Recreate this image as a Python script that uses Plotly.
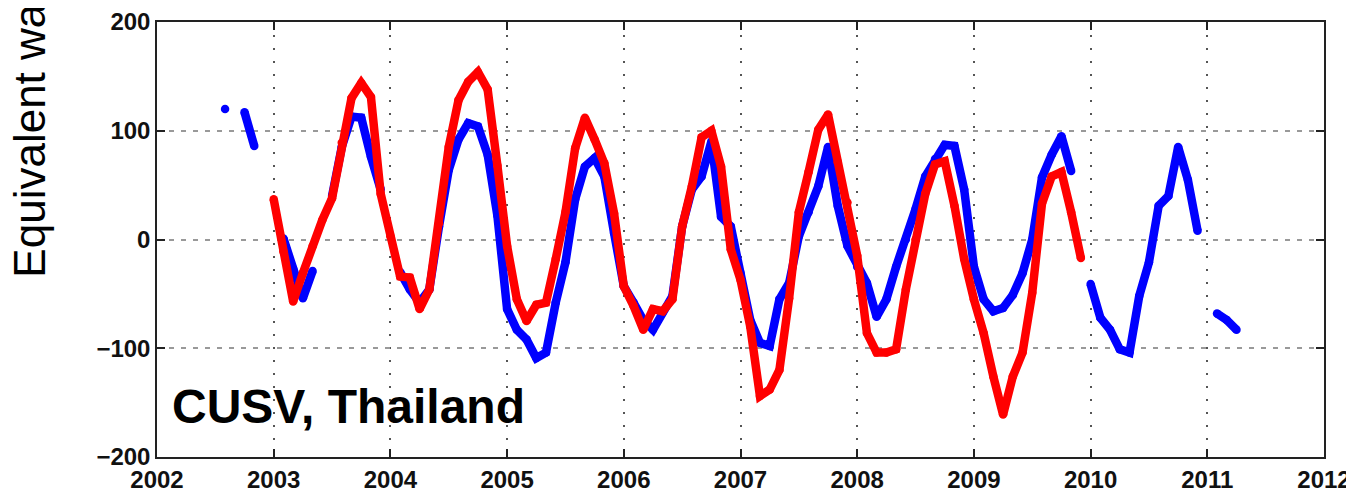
import plotly.graph_objects as go

# Monthly series (decimal-year grid: start + i/12)
blue_start = 2002 + 7/12   # Aug 2002
blue_vals = [120, None, 117, 86, None, None, 1, -27, -54, -29, None, 40, 85, 113, 112, 76, 46, None,
             -30, -46, -58, -46, 12, 64, 92, 107, 104, 78, 22,
             -64, -83, -92, -109, -104, -58, -21, 37, 67, 75, 58, 6,
             -43, -58, -74, -83, -67, -52, 12, 46, 58, 90, 21, 12,
             -31, -74, -95, -98, -55, -40, 3, 25, 49, 85, 31, -6,
             -25, -40, -71, -55, -25, 0, 28, 58, 74, 87, 86, 46,
             -25, -55, -66, -63, -51, -31, 0, 57, 78, 95, 63, None,
             -41, -72, -83, -101, -104, -52, -21, 31, 40, 85, 55, 8, None,
             -68, -74, -83]

red_start = 2003.0   # Jan 2003
red_vals = [37, -11, -57, -31, -6, 18, 38, 89, 130, 144, 131, 42,
            3, -34, -35, -64, -46, 15, 85, 128, 145, 154, 138, 68,
            -6, -55, -75, -60, -58, -18, 25, 84, 112, 92, 70, 24,
            -43, -61, -83, -64, -66, -55, 12, 49, 94, 100, 67, -9,
            -37, -80, -144, -138, -120, -54, 25, 62, 101, 115, 71, 34,
            -15, -86, -104, -104, -101, -46, 0, 42, 69, 72, 31, -18,
            -55, -86, -126, -161, -126, -104, -49, 33, 58, 62, 25, -17]

x_ticks = list(range(2002, 2013))
y_ticks = [-200, -100, 0, 100, 200]
site_label = "CUSV, Thailand"
y_title = "Equivalent water height (mm)"

blue_t = [blue_start + i/12 for i in range(len(blue_vals))]
red_t = [red_start + i/12 for i in range(len(red_vals))]

fig = go.Figure()
fig.add_trace(go.Scatter(x=blue_t, y=blue_vals, mode="lines+markers", connectgaps=False,
                         line=dict(color="#0000FF", width=8.5), marker=dict(color="#0000FF", size=8.5),
                         showlegend=False))
fig.add_trace(go.Scatter(x=red_t, y=red_vals, mode="lines+markers", connectgaps=False,
                         line=dict(color="#FF0000", width=8.5), marker=dict(color="#FF0000", size=8.5),
                         showlegend=False))

tickfont = dict(family="Liberation Sans, Arial, sans-serif", size=24, color="#111111", weight="bold")

# page body adds an 8px offset, so the figure is sized/margined to compensate
fig.update_layout(
    width=1346, height=491,
    margin=dict(l=149, r=30, t=14, b=42, autoexpand=False),
    paper_bgcolor="white", plot_bgcolor="white",
    xaxis=dict(range=[2002, 2012], tickvals=x_ticks, ticktext=[str(v) for v in x_ticks],
               automargin=False,
               ticks="inside", ticklen=8, tickwidth=1.5, tickcolor="#222222",
               showline=True, linecolor="#222222", linewidth=1.5, mirror="ticks",
               showgrid=True, gridcolor="#555555", gridwidth=1.5, griddash="2px,11px",
               zeroline=False, tickfont=tickfont),
    yaxis=dict(range=[-200, 200], tickvals=y_ticks,
               automargin=False,
               ticks="inside", ticklen=8, tickwidth=1.5, tickcolor="#222222",
               showline=True, linecolor="#222222", linewidth=1.5, mirror="ticks",
               showgrid=True, gridcolor="#999999", gridwidth=1.5, griddash="5px,7px",
               zeroline=False, tickfont=tickfont),
    annotations=[
        dict(x=2002.11, y=-153.5, xref="x", yref="y", text=site_label, showarrow=False,
             xanchor="left", yanchor="middle",
             font=dict(family="Liberation Sans, Arial, sans-serif", size=48, color="black", weight="bold")),
        dict(x=-0.1327, y=177 / 435, xref="paper", yref="paper", text=y_title, showarrow=False,
             textangle=-90, xanchor="left", yanchor="bottom",
             font=dict(family="Liberation Sans, Arial, sans-serif", size=44, color="black")),
    ],
)

fig.write_html("out.html")
